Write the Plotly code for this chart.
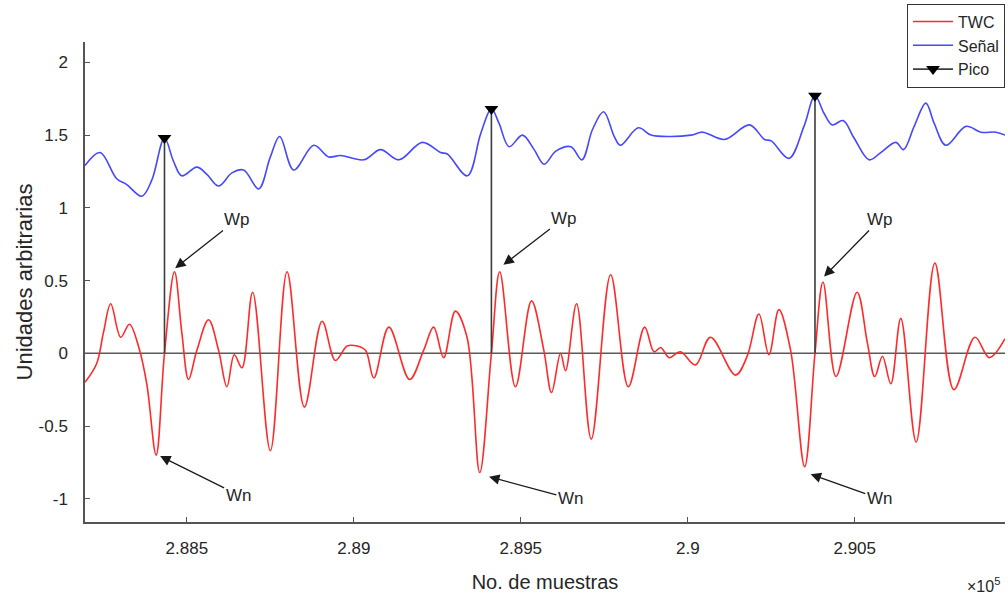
import plotly.graph_objects as go

# ---- data ----
senal_x = [288195, 288240, 288290, 288320, 288365, 288395, 288433, 288460, 288485, 288530,
           288560, 288595, 288635, 288670, 288715, 288750, 288778, 288820, 288880, 288925,
           288960, 289030, 289080, 289135, 289205, 289260, 289280, 289340, 289380, 289412,
           289435, 289465, 289505, 289540, 289570, 289605, 289650, 289683, 289715, 289748,
           289780, 289798, 289852, 289890, 289950, 290010, 290045, 290110, 290185, 290230,
           290250, 290303, 290348, 290381, 290408, 290433, 290465, 290498, 290543, 290578,
           290623, 290646, 290678, 290713, 290738, 290773, 290833, 290878, 290923, 290950]
senal_y = [1.29, 1.38, 1.20, 1.16, 1.08, 1.19, 1.48, 1.32, 1.22, 1.28,
           1.23, 1.15, 1.24, 1.26, 1.13, 1.35, 1.49, 1.26, 1.43, 1.35,
           1.36, 1.33, 1.40, 1.33, 1.45, 1.38, 1.37, 1.22, 1.51, 1.68,
           1.58, 1.42, 1.50, 1.40, 1.30, 1.39, 1.42, 1.33, 1.54, 1.66,
           1.49, 1.43, 1.55, 1.50, 1.49, 1.50, 1.52, 1.47, 1.57, 1.47,
           1.46, 1.34, 1.56, 1.77, 1.65, 1.57, 1.60, 1.48, 1.33, 1.38,
           1.45, 1.40, 1.56, 1.72, 1.58, 1.43, 1.56, 1.52, 1.52, 1.50]

twc_x = [288195, 288230, 288250, 288272, 288302, 288328, 288355, 288380, 288408, 288433,
         288463, 288485, 288505, 288530, 288565, 288595, 288620, 288642, 288665, 288697,
         288750, 288800, 288852, 288905, 288945, 288980, 289010, 289035, 289060, 289105,
         289167, 289209, 289239, 289269, 289304, 289339, 289377, 289412, 289437, 289484,
         289532, 289569, 289592, 289619, 289634, 289667, 289711, 289769, 289822, 289871,
         289899, 289919, 289944, 289978, 290023, 290068, 290143, 290178, 290213, 290243,
         290273, 290308, 290350, 290381, 290405, 290444, 290507, 290538, 290560, 290583,
         290608, 290638, 290684, 290740, 290797, 290860, 290903, 290950]
twc_y = [-0.20, -0.07, 0.14, 0.34, 0.11, 0.20, 0.05, -0.21, -0.70, 0.00,
         0.56, 0.14, -0.18, 0.02, 0.23, 0.02, -0.23, -0.01, -0.10, 0.42,
         -0.67, 0.56, -0.37, 0.22, -0.05, 0.05, 0.05, 0.02, -0.17, 0.18,
         -0.18, 0.02, 0.18, -0.03, 0.29, 0.11, -0.82, 0.00, 0.56, -0.23,
         0.36, 0.02, -0.27, 0.00, -0.12, 0.34, -0.59, 0.54, -0.23, 0.18,
         0.01, 0.04, -0.03, 0.01, -0.08, 0.11, -0.15, -0.02, 0.27, -0.01,
         0.30, 0.02, -0.78, 0.00, 0.49, -0.16, 0.42, 0.07, -0.16, -0.02,
         -0.21, 0.24, -0.61, 0.62, -0.25, 0.11, -0.03, 0.10]

pico_x = [288433, 289412, 290381]
pico_y = [1.48, 1.68, 1.77]

x_ticks = [288500, 289000, 289500, 290000, 290500]
x_tick_labels = ["2.885", "2.89", "2.895", "2.9", "2.905"]
y_ticks = [-1, -0.5, 0, 0.5, 1, 1.5, 2]
y_tick_labels = ["-1", "-0.5", "0", "0.5", "1", "1.5", "2"]

# annotation anchors: (head_x, head_y, text_x, text_y)
wp_arrows = [(288465, 0.585, 288650, 0.92), (289448, 0.608, 289630, 0.93), (290408, 0.527, 290575, 0.92)]
wn_arrows = [(288420, -0.707, 288655, -0.975), (289405, -0.849, 289650, -1.0), (290368, -0.831, 290575, -1.0)]

X_RANGE = [288195, 290950]
Y_RANGE = [-1.16, 2.14]

FONT = "Liberation Sans, Arial, sans-serif"
TXT = "#262626"

fig = go.Figure()

# horizontal zero line
fig.add_trace(go.Scatter(x=X_RANGE, y=[0, 0], mode="lines",
                         line=dict(color="#5a5a5a", width=1.6),
                         showlegend=False, hoverinfo="skip"))

fig.add_trace(go.Scatter(x=twc_x, y=twc_y, mode="lines", name="TWC",
                         line=dict(color="#ff2a2a", width=1.6, shape="spline", smoothing=1.0)))
fig.add_trace(go.Scatter(x=senal_x, y=senal_y, mode="lines", name="Señal",
                         line=dict(color="#4747ff", width=1.6, shape="spline", smoothing=1.0)))

# Pico stems: from zero to the peak, with a triangle at the peak
px, py, pc = [], [], []
for xv, yv in zip(pico_x, pico_y):
    px += [xv, xv, None]
    py += [yv, 0, None]
    pc += ["#000000", "rgba(0,0,0,0)", "rgba(0,0,0,0)"]
fig.add_trace(go.Scatter(x=px, y=py, mode="lines+markers", name="Pico",
                         line=dict(color="#3c3c3c", width=1.6),
                         marker=dict(symbol="triangle-down", size=12, color=pc,
                                     line=dict(width=0))))

ann_font = dict(family=FONT, size=17, color=TXT)
annotations = []
for hx, hy, tx, ty in wp_arrows:
    annotations.append(dict(x=hx, y=hy, ax=tx, ay=ty, xref="x", yref="y", axref="x", ayref="y",
                            text="Wp", showarrow=True, arrowhead=2, arrowsize=1.6, arrowwidth=1.3,
                            arrowcolor="#1a1a1a", font=ann_font))
for hx, hy, tx, ty in wn_arrows:
    annotations.append(dict(x=hx, y=hy, ax=tx, ay=ty, xref="x", yref="y", axref="x", ayref="y",
                            text="Wn", showarrow=True, arrowhead=2, arrowsize=1.6, arrowwidth=1.3,
                            arrowcolor="#1a1a1a", font=ann_font))
annotations.append(dict(x=0.997, y=-0.132, xref="paper", yref="paper", xanchor="right", yanchor="middle",
                        text="×10<sup>5</sup>", showarrow=False,
                        font=dict(family=FONT, size=16, color=TXT)))

fig.update_layout(
    width=1008, height=602,
    margin=dict(l=85, r=3, t=42, b=80),
    paper_bgcolor="white", plot_bgcolor="white",
    font=dict(family=FONT, size=17, color=TXT),
    showlegend=True,
    legend=dict(x=1.0, y=1.08, xanchor="right", yanchor="top",
                bgcolor="white", bordercolor="#333333", borderwidth=1,
                font=dict(family=FONT, size=16, color=TXT),
                itemwidth=40, tracegroupgap=2),
    annotations=annotations,
)

fig.update_xaxes(range=X_RANGE, tickvals=x_ticks, ticktext=x_tick_labels,
                 showgrid=False, zeroline=False, showline=True, linecolor="#555555", linewidth=1.5,
                 ticks="inside", ticklen=5, tickcolor="#555555", tickwidth=1.2,
                 ticklabelstandoff=10,
                 title=dict(text="No. de muestras", font=dict(family=FONT, size=20, color=TXT), standoff=18),
                 tickfont=dict(family=FONT, size=17, color=TXT))
fig.update_yaxes(range=Y_RANGE, tickvals=y_ticks, ticktext=y_tick_labels,
                 showgrid=False, zeroline=False, showline=True, linecolor="#555555", linewidth=1.5,
                 ticks="inside", ticklen=5, tickcolor="#555555", tickwidth=1.2,
                 ticklabelstandoff=12,
                 title=dict(text="Unidades arbitrarias", font=dict(family=FONT, size=22, color=TXT), standoff=0),
                 tickfont=dict(family=FONT, size=17, color=TXT))

fig.write_html("out.html")
